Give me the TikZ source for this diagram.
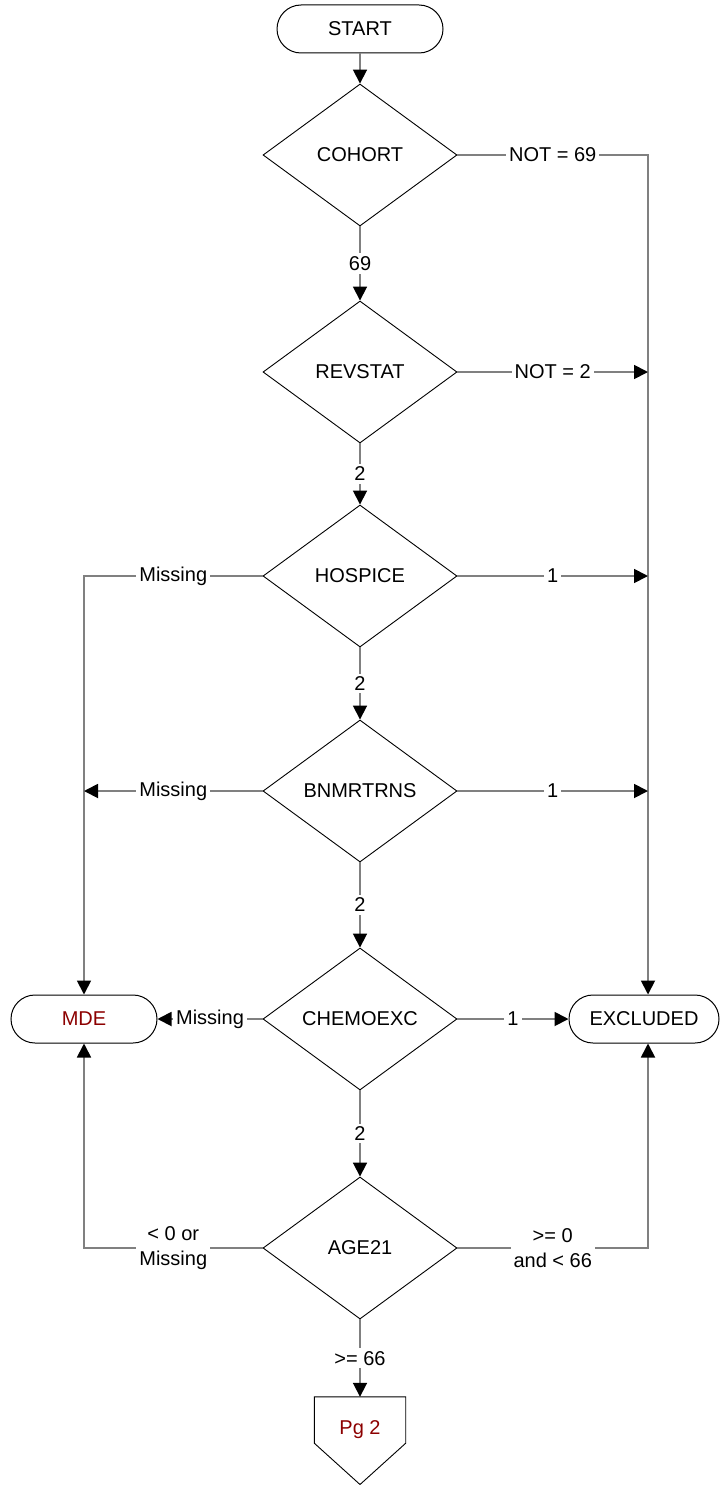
\documentclass[tikz,border=0pt]{standalone}
\usepackage{fontspec}
\setmainfont{Liberation Sans}
\usetikzlibrary{shapes.geometric,arrows.meta}
\definecolor{linegray}{RGB}{128,128,128}
\definecolor{darkred}{RGB}{140,0,0}
\begin{document}
\begin{tikzpicture}[x=1pt,y=-1pt,
  font=\fontsize{20}{24}\selectfont,
  term/.style={draw=black, line width=1pt, rectangle, rounded corners=24pt, minimum width=166pt, minimum height=48pt, inner sep=0pt},
  dec/.style={draw=black, line width=0.9pt, diamond, aspect=1.37, minimum width=194pt, minimum height=142pt, inner sep=1pt},
  conn/.style={draw=linegray, line width=1.8pt},
  arr/.style={conn, -{Triangle[length=14pt,width=14pt,black]}},
  lbl/.style={fill=white, inner sep=3pt, text=black},
  lbl2/.style={lbl, align=center, font=\fontsize{20}{25}\selectfont},
]
\useasboundingbox (0,0) rectangle (721,1485);
\coordinate (rail) at (648,0);

\node[term] (start) at (360,29) {START};
\node[dec] (cohort) at (360,155) {COHORT};
\node[dec] (revstat) at (360,372) {REVSTAT};
\node[dec] (hospice) at (360,576) {HOSPICE};
\node[dec] (bnm) at (360,791) {BNMRTRNS};
\node[dec] (chemo) at (360,1019) {CHEMOEXC};
\node[dec] (age) at (360,1248) {AGE21};
\node[term, text=darkred, minimum width=146pt] (mde) at (84,1019) {MDE};
\node[term, minimum width=150pt] (excl) at (644,1019) {EXCLUDED};

\node[minimum width=91pt, minimum height=46pt, inner sep=0pt] (pg2) at (360,1420) {};
\draw[line width=0.9pt] (pg2.north west) -- (pg2.north east) -- (pg2.south east) -- (360,1484.5) -- (pg2.south west) -- cycle;
\node[text=darkred] (pg2txt) at (360,1430) {Pg 2};

\draw[arr] (start) -- (cohort);
\draw[arr] (cohort) -- node[lbl]{69} (revstat);
\draw[arr] (revstat) -- node[lbl]{2} (hospice);
\draw[arr] (hospice) -- node[lbl]{2} (bnm);
\draw[arr] (bnm) -- node[lbl]{2} (chemo);
\draw[arr] (chemo) -- node[lbl]{2} (age);
\draw[arr] (age) -- node[lbl]{>= 66} (pg2.north);

\draw[arr] (cohort.east) -- node[lbl]{NOT = 69} (cohort.east -| rail) -- (excl.north -| rail);
\draw[arr] (revstat.east) -- node[lbl]{NOT = 2} (revstat.east -| rail);
\draw[arr] (hospice.east) -- node[lbl]{1} (hospice.east -| rail);
\draw[arr] (bnm.east) -- node[lbl]{1} (bnm.east -| rail);
\draw[arr] (chemo.east) -- node[lbl]{1} (excl.west);
\draw[arr] (age.east) -- node[lbl2]{>= 0\\and < 66} (age.east -| rail) -- (excl.south -| rail);

\draw[arr] (hospice.west) -- node[lbl]{Missing} (hospice.west -| mde.north) -- (mde.north);
\draw[arr] (bnm.west) -- node[lbl]{Missing} (bnm.west -| mde.north);
\draw[arr] (chemo.west) -- node[lbl]{Missing} (mde.east);
\draw[arr] (age.west) -- node[lbl2]{< 0 or\\Missing} (age.west -| mde.south) -- (mde.south);
\end{tikzpicture}
\end{document}
